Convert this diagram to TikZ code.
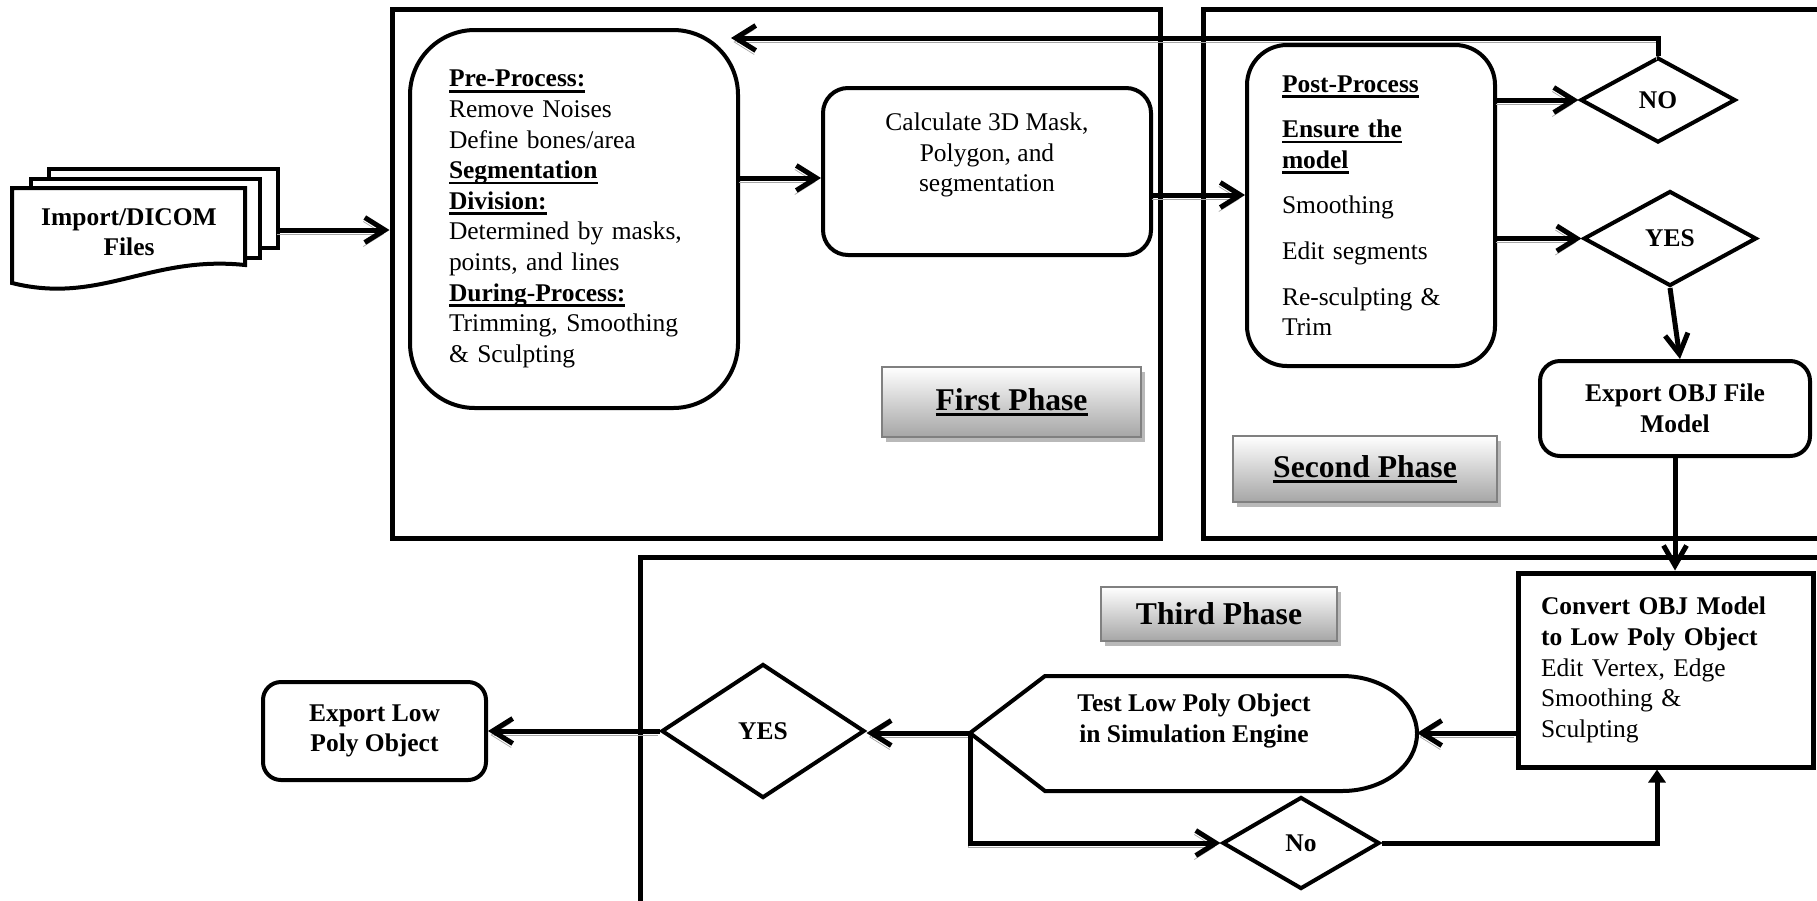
\documentclass[tikz,border=0pt]{standalone}
\usepackage{fontspec}
\setmainfont{Liberation Serif}
\usetikzlibrary{arrows.meta,shapes.geometric,positioning,shadows}
\newcommand{\bodysize}{\fontsize{14.5pt}{17.4pt}\selectfont}
\newcommand{\headsize}{\fontsize{18pt}{21pt}\selectfont}
\newcommand{\uln}[1]{\leavevmode\setbox0\hbox{#1}\rlap{\rule[-3.2pt]{\wd0}{1.4pt}}\box0}

\begin{document}
\begin{tikzpicture}[x=0.2mm, y=-0.2mm,
  phaseframe/.style={draw, line width=1mm, inner sep=0pt},
  rbox/.style={draw, line width=0.8mm, fill=white, font=\bodysize},
  decision/.style={diamond, draw, line width=0.8mm, fill=white, inner sep=0pt, font=\bodysize\bfseries},
  phaselabel/.style={draw=gray, line width=0.4mm, top color=white, bottom color=gray!70, inner sep=0pt,
    drop shadow={shadow xshift=0.8mm, shadow yshift=-1mm, fill=gray!55, opacity=1}, font=\headsize\bfseries},
  flow/.style={line width=1mm, -{Straight Barb[length=4mm,width=5mm]},
    preaction={draw=gray!70, transform canvas={xshift=-0.3mm, yshift=-0.8mm}}},
  link/.style={line width=1mm, -{Straight Barb[length=4mm,width=4.6mm]}}]
\useasboundingbox (0,0) rectangle (1817,900);

% phase frames
\node[phaseframe, minimum width=153.6mm, minimum height=105.6mm] (first) at (776,274) {};
\node[phaseframe, minimum width=127.4mm, minimum height=105.6mm] (second) at (1521.5,274) {};
\node[phaseframe, minimum width=240mm, minimum height=69.6mm] (third) at (1240,731) {};

% input documents
\draw[line width=0.8mm, fill=white] (49,169) rectangle (278,248);
\draw[line width=0.8mm, fill=white] (31,179) rectangle (260,258);
\draw[line width=0.8mm, fill=white] (12,188) -- (245,188) -- (245,265) .. controls (150,255) and (100,305) .. (12,283) -- cycle;
\node[font=\bodysize\bfseries, align=center] (import) at (129,232) {Import/DICOM\\Files};
\coordinate (docout) at (278,230);

% first phase
\node[rbox, rounded corners=13mm, minimum width=65.6mm, minimum height=75.6mm, text width=50mm, align=left] (pre) at (574,219) {%
\uln{\textbf{Pre-Process:}}\\
Remove Noises\\
Define bones/area\\
\uln{\textbf{Segmentation}}\\
\uln{\textbf{Division:}}\\
Determined by masks,\\
points, and lines\\
\uln{\textbf{During-Process:}}\\
Trimming, Smoothing\\
\& Sculpting};
\node[rbox, rounded corners=5mm, minimum width=65.6mm, minimum height=33.4mm] (calc) at (987,171.5) {};
\node[font=\bodysize, align=center, inner sep=0pt, below=5.3mm of calc.north] (calctext) {Calculate 3D Mask,\\Polygon, and\\segmentation};
\node[phaselabel, minimum width=51.8mm, minimum height=14mm] (firstlbl) at (1011.5,402) {\uln{First Phase}};

% second phase
\node[rbox, rounded corners=8mm, minimum width=49.6mm, minimum height=64.2mm, text width=35.6mm, align=left] (post) at (1371,205.5) {%
\uln{\textbf{Post-Process}}\\[3mm]
\uln{\textbf{Ensure the}}\\
\uln{\textbf{model}}\\[3mm]
Smoothing\\[3mm]
Edit segments\\[3mm]
Re-sculpting \&\\
Trim};
\node[decision, minimum width=31mm, minimum height=17mm] (no) at (1658,100) {NO};
\node[decision, minimum width=34.6mm, minimum height=19mm] (yes2) at (1670,238.5) {YES};
\node[rbox, rounded corners=4mm, minimum width=54mm, minimum height=19mm, align=center, font=\bodysize\bfseries] (exportobj) at (1675,408.5) {Export OBJ File\\Model};
\node[phaselabel, minimum width=52.8mm, minimum height=13.2mm] (secondlbl) at (1365,469) {\uln{Second Phase}};
\coordinate (fbtip) at (731,38);

% third phase
\node[draw, line width=1mm, fill=white, minimum width=59mm, minimum height=38.8mm, text width=49.8mm, align=left, font=\bodysize] (convert) at (1665.5,670) {%
\textbf{Convert OBJ Model}\\
\textbf{to Low Poly Object}\\
Edit Vertex, Edge\\
Smoothing \&\\
Sculpting};
\draw[line width=0.8mm, fill=white] (970,733) -- (1045,676) -- (1342,676) arc[start angle=90, end angle=-90, x radius=15mm, y radius=11.5mm] -- (1045,791) -- cycle;
\node[font=\bodysize\bfseries, align=center] (test) at (1194,721) {Test Low Poly Object\\in Simulation Engine};
\coordinate (testin) at (1417,733);
\coordinate (testout) at (970,733);
\node[decision, minimum width=40.6mm, minimum height=26.8mm] (yes3) at (763,731) {YES};
\node[decision, minimum width=31.4mm, minimum height=18.4mm] (no3) at (1301,843) {No};
\node[rbox, rounded corners=3.6mm, minimum width=44.6mm, minimum height=19.6mm, align=center, font=\bodysize\bfseries] (exportlow) at (374.5,731) {Export Low\\Poly Object};
\node[phaselabel, minimum width=47.2mm, minimum height=10.8mm] (thirdlbl) at (1219,614) {Third Phase};

% connectors
\draw[flow] (docout) -- (docout -| first.west);
\draw[flow] (pre.east |- 0,178) -- (calc.west |- 0,178);
\draw[flow] (calc.east |- 0,195) -- (post.west |- 0,195);
\draw[flow] (no.north) |- (fbtip);
\draw[flow] (post.east |- no.west) -- (no.west);
\draw[flow] (post.east |- yes2.west) -- (yes2.west);
\draw[link] (yes2.south) -- ([xshift=1mm]exportobj.north);
\draw[link] (exportobj.south) -- (exportobj.south |- convert.north);
\draw[flow] (convert.west |- testin) -- (testin);
\draw[flow] (testout) -- (testout -| yes3.east);
\draw[flow] (yes3.west) -- (exportlow.east);
\draw[flow] (testout) |- (no3.west);
\draw[line width=1mm, -{Triangle[length=2.6mm,width=3.4mm]}] (no3.east) -| ([xshift=-1.7mm]convert.south);
\end{tikzpicture}
\end{document}
